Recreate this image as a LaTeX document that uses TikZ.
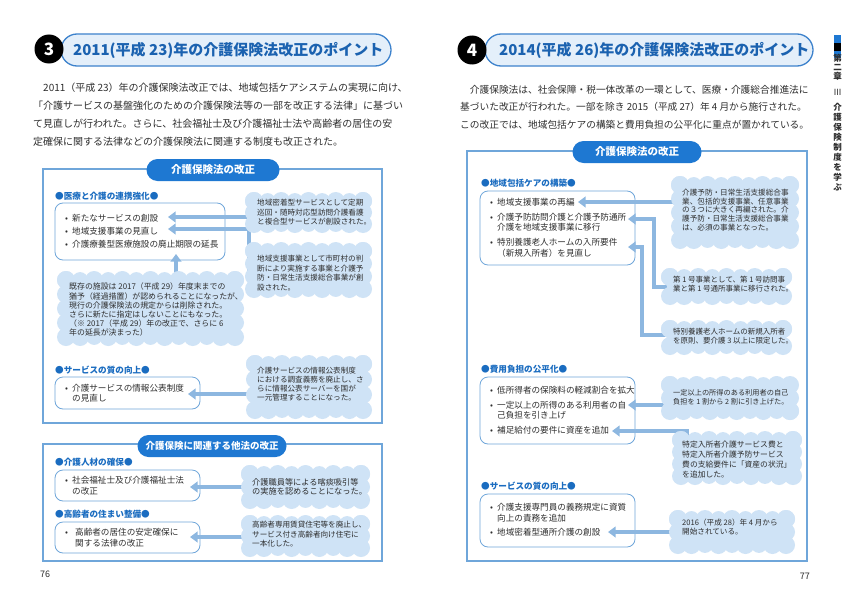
\documentclass[tikz,border=0pt]{standalone}
\usepackage{fontspec}
\setmainfont{Noto Sans CJK JP}
\usetikzlibrary{arrows.meta,fit}
\definecolor{ttl}{HTML}{1B62B0}
\definecolor{pillf}{HTML}{E4EFFA}
\definecolor{pilld}{HTML}{3D82CC}
\definecolor{lab}{HTML}{1E78D2}
\definecolor{hd}{HTML}{1A6CC0}
\definecolor{cloudc}{HTML}{CFE3F6}
\definecolor{arrowc}{HTML}{8DB7E0}
\definecolor{boxc}{HTML}{6FA6DA}
\definecolor{txt}{HTML}{2E2E2E}
\pgfdeclarelayer{bg}\pgfdeclarelayer{arr}\pgfsetlayers{bg,arr,main}
\newcommand\fs[2]{\fontsize{#1}{#2}\selectfont}
\newcommand\bl{\makebox[7pt][l]{•}}
\newcommand\ind{\hspace*{7pt}}
\newcommand\puff[5]{%
  \pgfmathsetmacro\pr{min(9,(#5-#3)/3.8)}%
  \pgfmathtruncatemacro\nx{max(1,round((#4-#2-2*\pr)/(1.55*\pr)))}%
  \pgfmathtruncatemacro\ny{max(1,round((#5-#3-2*\pr)/(1.55*\pr)))}%
  \fill[cloudc] (#2+\pr*0.7,#3+\pr*0.7) rectangle (#4-\pr*0.7,#5-\pr*0.7);%
  \foreach \i in {0,...,\nx}{%
    \pgfmathsetmacro\xx{#2+\pr+\i*(#4-#2-2*\pr)/\nx}%
    \pgfmathsetmacro\ra{\pr*(1-0.12*mod(\i,2))}%
    \pgfmathsetmacro\rb{\pr*(0.88+0.12*mod(\i,2))}%
    \fill[cloudc] (\xx,#3+\pr) circle[radius=\ra pt] (\xx,#5-\pr) circle[radius=\rb pt];}%
  \foreach \j in {0,...,\ny}{%
    \pgfmathsetmacro\yy{#3+\pr+\j*(#5-#3-2*\pr)/\ny}%
    \fill[cloudc] (#2+\pr,\yy) circle[radius=\pr pt] (#4-\pr,\yy) circle[radius=\pr pt];}%
  \node[fit={(#2,#3) (#4,#5)}, inner sep=0pt] (#1) {};%
}
\begin{document}
\begin{tikzpicture}[x=1pt,y=-1pt,
  outer/.style={draw=boxc, line width=1.3pt, inner sep=0pt},
  inner/.style={draw=boxc, line width=0.8pt, fill=white, rounded corners=8pt, inner sep=0pt},
  label/.style={fill=lab, text=white, font=\bfseries\fs{10.5}{12}, rounded corners=11pt, minimum height=22pt, inner sep=0pt},
  head/.style={text=hd, font=\bfseries\fs{8.6}{10}, anchor=west, inner sep=0pt},
  tl/.style={anchor=north west, inner sep=0pt, align=left, text=txt},
  arrw/.style={draw=arrowc, line width=4pt, -{Triangle[width=10.5pt,length=7.5pt]}},
  pill/.style={fill=pillf, draw=pilld, line width=1.3pt, rounded corners=16pt, inner sep=0pt},
  ttltext/.style={anchor=west, text=ttl, font=\bfseries\fs{15}{17}, inner sep=0pt},
  numc/.style={circle, fill=black, minimum size=29pt, inner sep=0pt, text=white, font=\bfseries\fs{17}{18}}
]
\useasboundingbox (0,0) rectangle (850,602);
\begin{pgfonlayer}{bg}
\fill[white] (0,0) rectangle (850,602);
\end{pgfonlayer}

% ================= LEFT PAGE =================
\node[pill, fit={(61,34) (391,66)}] (pl) {};
\node[numc] (n3) at (49,49) {3};
\node[ttltext] (tlt) at (73,50) {2011(平成 23)年の介護保険法改正のポイント};
\node[tl, font=\fs{10}{18}] (parl) at (33,83) {\hspace*{1em}2011（平成 23）年の介護保険法改正では、地域包括ケアシステムの実現に向け、\\
「介護サービスの基盤強化のための介護保険法等の一部を改正する法律」に基づい\\
て見直しが行われた。さらに、社会福祉士及び介護福祉士法や高齢者の居住の安\\
定確保に関する法律などの介護保険法に関連する制度も改正された。};

\begin{pgfonlayer}{bg}
\node[outer, fit={(43,169) (382,423)}] (ob1) {};
\node[outer, fit={(43,444) (382,561)}] (ob2) {};
\node[inner, fit={(55,203) (225,260)}] (ib1) {};
\node[inner, fit={(55,377) (200,409)}] (ib2) {};
\node[inner, fit={(55,470) (200,501)}] (ib3) {};
\node[inner, fit={(55,522) (200,553)}] (ib4) {};
\end{pgfonlayer}
\node[label, minimum width=133pt] (lab1) at (213,170) {介護保険法の改正};
\node[label, minimum width=149pt, font=\bfseries\fs{9.5}{11}] (lab2) at (212,446) {介護保険に関連する他法の改正};

\node[head] (h1) at (55,196) {●医療と介護の連携強化●};
\node[head] (h2) at (55,370) {●サービスの質の向上●};
\node[head] (h3) at (55,462) {●介護人材の確保●};
\node[head] (h4) at (55,514) {●高齢者の住まい整備●};

\node[tl, font=\fs{8.6}{10.5}] (tx1) at (65,213.7) {\bl 新たなサービスの創設\\[2.5pt]\bl 地域支援事業の見直し\\[2.5pt]\bl 介護療養型医療施設の廃止期限の延長};
\node[tl, font=\fs{8.6}{10}] (tx2) at (65,383.7) {\bl 介護サービスの情報公表制度\\\ind の見直し};
\node[tl, font=\fs{8.6}{11}] (tx3) at (65,475.7) {\bl 社会福祉士及び介護福祉士法\\\ind の改正};
\node[tl, font=\fs{8.6}{11}] (tx4) at (65,527.7) {\makebox[10pt][l]{•}高齢者の居住の安定確保に\\\hspace*{10pt}関する法律の改正};

% clouds (left)
\puff{cl1}{245}{192}{372}{233}
\puff{cl2}{245}{242}{372}{298}
\puff{cl3}{57}{271}{244}{346}
\puff{cl4}{246}{355}{372}{419}
\puff{cl5}{241}{465}{370}{509}
\puff{cl6}{241}{515}{370}{557}

\node[tl, font=\fs{7.6}{9.5}] (ct1) at (257,199.2) {地域密着型サービスとして定期\\巡回・随時対応型訪問介護看護\\と複合型サービスが創設された。};
\node[tl, font=\fs{7.6}{9.6}] (ct2) at (257,255) {地域支援事業として市町村の判\\断により実施する事業と介護予\\防・日常生活支援総合事業が創\\設された。};
\node[tl, font=\fs{7.9}{9.2}] (ct3) at (69,283) {既存の施設は 2017（平成 29）年度末までの\\猶予（経過措置）が認められることになったが、\\現行の介護保険法の規定からは削除された。\\さらに新たに指定はしないことにもなった。\\（※ 2017（平成 29）年の改正で、さらに 6\\年の延長が決まった）};
\node[tl, font=\fs{7.6}{9}] (ct4) at (257,367.2) {介護サービスの情報公表制度\\における調査義務を廃止し、さ\\らに情報公表サーバーを国が\\一元管理することになった。};
\node[tl, font=\fs{8.2}{9.3}] (ct5) at (252,477.9) {介護職員等による喀痰吸引等\\の実施を認めることになった。};
\node[tl, font=\fs{7.6}{9.5}] (ct6) at (252,521.2) {高齢者専用賃貸住宅等を廃止し、\\サービス付き高齢者向け住宅に\\一本化した。};

\coordinate (la1t) at (168,217);
\coordinate (la2s) at (249,272);
\coordinate (la2t) at (168,229);
\coordinate (la3s) at (176,290);
\coordinate (la3t) at (176,254);
\coordinate (la4t) at (188,394);
\coordinate (la5t) at (190,487);
\coordinate (la6t) at (190,537);
\begin{pgfonlayer}{arr}
\draw[arrw] (la1t -| cl1.center) -- (la1t);
\draw[arrw] (la2s) |- (la2t);
\draw[arrw] (la3s) -- (la3t);
\draw[arrw] (la4t -| cl4.center) -- (la4t);
\draw[arrw] (la5t -| cl5.center) -- (la5t);
\draw[arrw] (la6t -| cl6.center) -- (la6t);
\end{pgfonlayer}

\node[anchor=west, inner sep=0pt, text=txt, font=\fs{9}{10}] (pn76) at (40,574) {76};

% ================= RIGHT PAGE =================
\node[pill, fit={(485,34) (813,66)}] (pr) {};
\node[numc] (n4) at (472,50) {4};
\node[ttltext] (trt) at (499,50) {2014(平成 26)年の介護保険法改正のポイント};
\node[tl, font=\fs{9.7}{17.5}] (parr) at (460,85) {\hspace*{1em}介護保険法は、社会保障・税一体改革の一環として、医療・介護総合推進法に\\
基づいた改正が行われた。一部を除き 2015（平成 27）年 4 月から施行された。\\
この改正では、地域包括ケアの構築と費用負担の公平化に重点が置かれている。};

\begin{pgfonlayer}{bg}
\node[outer, fit={(467,151) (807,561)}] (ob3) {};
\node[inner, fit={(480,191) (635,265)}] (ib5) {};
\node[inner, fit={(480,377) (635,444)}] (ib6) {};
\node[inner, fit={(480,494) (635,547)}] (ib7) {};
\end{pgfonlayer}
\node[label, minimum width=129pt] (lab3) at (637,152) {介護保険法の改正};

\node[head] (h5) at (481,183) {●地域包括ケアの構築●};
\node[head] (h6) at (481,369) {●費用負担の公平化●};
\node[head] (h7) at (481,486) {●サービスの質の向上●};

\node[tl, font=\fs{8.6}{10.5}] (tx5) at (490,197.7) {\bl 地域支援事業の再編\\[4.5pt]\bl 介護予防訪問介護と介護予防通所\\\ind 介護を地域支援事業に移行\\[4.5pt]\bl 特別養護老人ホームの入所要件\\\ind （新規入所者）を見直し};
\node[tl, font=\fs{8.6}{10.7}] (tx6) at (490,385.7) {\bl 低所得者の保険料の軽減割合を拡大\\[4.3pt]\bl 一定以上の所得のある利用者の自\\\ind 己負担を引き上げ\\[4.3pt]\bl 補足給付の要件に資産を追加};
\node[tl, font=\fs{8.6}{11}] (tx7) at (490,502.7) {\bl 介護支援専門員の義務規定に資質\\\ind 向上の責務を追加\\[3pt]\bl 地域密着型通所介護の創設};

% clouds (right)
\puff{cr1}{671}{176}{799}{249}
\puff{cr2}{661}{268}{792}{305}
\puff{cr3}{661}{320}{792}{355}
\puff{cr4}{661}{376}{799}{420}
\puff{cr5}{672}{431}{802}{485}
\puff{cr6}{669}{510}{795}{554}

\node[tl, font=\fs{7.6}{8.6}] (ct7) at (682,189.2) {介護予防・日常生活支援総合事\\業、包括的支援事業、任意事業\\の３つに大きく再編された。介\\護予防・日常生活支援総合事業\\は、必須の事業となった。};
\node[tl, font=\fs{7.5}{9}] (ct8) at (673,276.3) {第 1 号事業として、第 1 号訪問事\\業と第 1 号通所事業に移行された。};
\node[tl, font=\fs{7.5}{8.5}] (ct9) at (673,328.3) {特別養護老人ホームの新規入所者\\を原則、要介護 3 以上に限定した。};
\node[tl, font=\fs{7.2}{9}] (ct10) at (673,389.4) {一定以上の所得のある利用者の自己\\負担を 1 割から 2 割に引き上げた。};
\node[tl, font=\fs{7.8}{9.8}] (ct11) at (682,441) {特定入所者介護サービス費と\\特定入所者介護予防サービス\\費の支給要件に「資産の状況」\\を追加した。};
\node[tl, font=\fs{7.6}{9}] (ct12) at (682,519.2) {2016（平成 28）年 4 月から\\開始されている。};

\coordinate (ra1t) at (578,202);
\coordinate (ra2s) at (670,287);
\coordinate (ra2m) at (654,219);
\coordinate (ra2t) at (628,219);
\coordinate (ra3s) at (668,335);
\coordinate (ra3m) at (642,247);
\coordinate (ra3t) at (628,247);
\coordinate (ra4t) at (628,405);
\coordinate (ra5s) at (687,446);
\coordinate (ra5t) at (612,431);
\coordinate (ra6t) at (608,532);
\begin{pgfonlayer}{arr}
\draw[arrw] (ra1t -| cr1.center) -- (ra1t);
\draw[arrw] (ra2s) -| (ra2m) -- (ra2t);
\draw[arrw] (ra3s) -| (ra3m) -- (ra3t);
\draw[arrw] (ra4t -| cr4.center) -- (ra4t);
\draw[arrw] (ra5s) |- (ra5t);
\draw[arrw] (ra6t -| cr6.center) -- (ra6t);
\end{pgfonlayer}

\node[anchor=east, inner sep=0pt, text=txt, font=\fs{9}{10}] (pn77) at (810,576) {77};

% sidebar
\fill[lab] (834,35) rectangle (841,58);
\fill[black] (834,43) rectangle (841,51);
\node[anchor=north, align=center, inner sep=0pt, text=txt, font=\bfseries\fs{8.5}{9}] (sb1) at (837.5,53.7) {第\\二\\章};
\node[inner sep=0pt, text=txt, font=\fs{8.5}{9}] (sb2) at (837.5,92) {Ⅲ};
\node[anchor=north, align=center, inner sep=0pt, text=txt, font=\bfseries\fs{8.5}{10}] (sb3) at (837.5,102.7) {介\\護\\保\\険\\制\\度\\を\\学\\ぶ};
\end{tikzpicture}
\end{document}
